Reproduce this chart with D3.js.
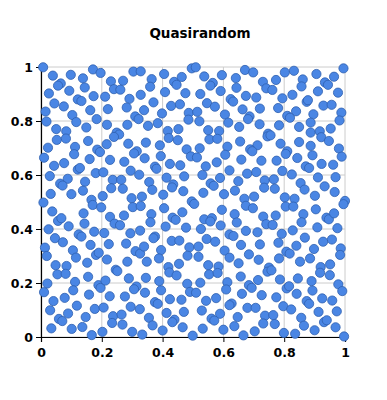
<!DOCTYPE html>
<html>
<head>
<meta charset="utf-8">
<script src="https://cdn.jsdelivr.net/npm/d3@7"></script>
<style>
  body { margin: 0; background: #fff; }
  text { font-family: "DejaVu Sans", Verdana, sans-serif; }
</style>
</head>
<body>
<div id="chart"></div>
<script>
const title = "Quasirandom";
const xTicks = [0, 0.2, 0.4, 0.6, 0.8, 1];
const yTicks = [0, 0.2, 0.4, 0.6, 0.8, 1];

// sample points, [x, y]
const samples = [
  // top band
  [0.007,0.999],[0.039,0.968],[0.098,0.971],[0.171,0.991],[0.196,0.978],[0.138,0.958],[0.304,0.983],[0.328,0.984],
  [0.230,0.947],[0.270,0.949],[0.065,0.939],[0.056,0.931],[0.144,0.924],[0.093,0.912],[0.026,0.902],[0.240,0.918],
  [0.261,0.916],[0.328,0.897],[0.173,0.892],[0.211,0.890],[0.291,0.882],[0.121,0.880],[0.133,0.874],[0.044,0.865],
  [0.075,0.854],[0.015,0.835],[0.162,0.840],[0.220,0.844],[0.282,0.850],[0.103,0.822],[0.310,0.817],[0.321,0.807],
  [0.018,0.798],[0.116,0.796],[0.183,0.807],[0.217,0.786],[0.284,0.786],[0.149,0.776],
  [0.364,0.955],[0.405,0.974],[0.496,0.995],[0.509,0.999],[0.537,0.965],[0.595,0.970],[0.641,0.959],[0.671,0.989],
  [0.438,0.945],[0.446,0.934],[0.463,0.963],[0.359,0.927],[0.565,0.941],[0.557,0.931],[0.643,0.923],[0.408,0.907],
  [0.475,0.903],[0.524,0.900],[0.591,0.911],[0.674,0.893],[0.624,0.881],[0.632,0.872],[0.370,0.869],[0.546,0.866],
  [0.572,0.853],[0.428,0.856],[0.457,0.862],[0.339,0.840],[0.663,0.843],[0.398,0.828],[0.486,0.830],[0.514,0.834],
  [0.605,0.824],[0.485,0.805],[0.521,0.799],[0.384,0.792],[0.352,0.782],[0.616,0.794],[0.652,0.778],
  [0.698,0.980],[0.802,0.980],[0.832,0.986],[0.906,0.974],[0.964,0.964],[0.995,0.995],[0.730,0.945],[0.773,0.952],
  [0.861,0.954],[0.741,0.921],[0.761,0.915],[0.857,0.928],[0.934,0.943],[0.944,0.934],[0.708,0.887],[0.794,0.884],
  [0.827,0.897],[0.911,0.910],[0.977,0.905],[0.874,0.871],[0.878,0.877],[0.720,0.846],[0.780,0.848],[0.839,0.836],
  [0.929,0.857],[0.956,0.860],[0.686,0.817],[0.681,0.807],[0.810,0.819],[0.819,0.812],[0.896,0.825],[0.988,0.831],
  [0.982,0.802],[0.719,0.788],[0.783,0.784],[0.887,0.794],[0.849,0.778],
  // upper middle band
  [0.050,0.770],[0.083,0.762],[0.249,0.757],[0.257,0.750],[0.240,0.741],[0.052,0.730],[0.082,0.735],[0.155,0.726],
  [0.216,0.714],[0.287,0.716],[0.023,0.701],[0.112,0.704],[0.109,0.677],[0.185,0.694],[0.194,0.685],[0.315,0.688],
  [0.306,0.680],[0.010,0.664],[0.160,0.659],[0.227,0.656],[0.274,0.649],[0.076,0.644],[0.043,0.634],[0.121,0.620],
  [0.128,0.626],[0.180,0.607],[0.205,0.610],[0.295,0.616],[0.323,0.601],[0.029,0.596],[0.088,0.586],[0.063,0.568],
  [0.071,0.561],[0.145,0.575],[0.236,0.582],[0.264,0.582],[0.231,0.551],[0.269,0.549],[0.138,0.542],[0.100,0.529],
  [0.032,0.530],
  [0.417,0.763],[0.452,0.770],[0.420,0.737],[0.450,0.729],[0.550,0.766],[0.586,0.763],[0.554,0.732],[0.580,0.734],
  [0.345,0.720],[0.391,0.710],[0.479,0.695],[0.522,0.699],[0.613,0.705],[0.655,0.724],[0.493,0.669],[0.513,0.665],
  [0.606,0.675],[0.394,0.670],[0.341,0.662],[0.659,0.657],[0.424,0.641],[0.458,0.636],[0.542,0.632],[0.578,0.647],
  [0.375,0.631],[0.380,0.623],[0.620,0.617],[0.356,0.574],[0.413,0.590],[0.471,0.595],[0.531,0.600],[0.589,0.589],
  [0.649,0.577],[0.558,0.569],[0.568,0.560],[0.435,0.565],[0.431,0.554],[0.366,0.545],[0.468,0.540],[0.534,0.534],
  [0.602,0.529],[0.638,0.542],
  [0.953,0.772],[0.887,0.757],[0.917,0.762],[0.922,0.740],[0.947,0.726],[0.747,0.753],[0.745,0.743],[0.755,0.747],
  [0.849,0.722],[0.788,0.716],[0.712,0.710],[0.688,0.695],[0.695,0.688],[0.887,0.708],[0.980,0.698],[0.989,0.668],
  [0.810,0.688],[0.805,0.678],[0.893,0.673],[0.843,0.663],[0.725,0.653],[0.775,0.653],[0.871,0.632],[0.882,0.626],
  [0.923,0.641],[0.961,0.638],[0.678,0.605],[0.708,0.611],[0.794,0.615],[0.825,0.602],[0.911,0.591],[0.969,0.592],
  [0.736,0.580],[0.766,0.584],[0.854,0.570],[0.734,0.553],[0.769,0.549],[0.867,0.546],[0.933,0.558],[0.966,0.537],
  // lower middle band
  [0.203,0.522],[0.166,0.508],[0.170,0.489],[0.198,0.480],[0.298,0.514],[0.332,0.520],[0.302,0.481],[0.328,0.485],
  [0.008,0.498],[0.037,0.465],[0.140,0.458],[0.273,0.450],[0.227,0.445],[0.056,0.430],[0.067,0.440],[0.143,0.420],
  [0.242,0.420],[0.260,0.414],[0.091,0.410],[0.025,0.399],[0.175,0.390],[0.208,0.385],[0.294,0.384],[0.326,0.394],
  [0.124,0.380],[0.133,0.372],[0.046,0.366],[0.072,0.351],[0.163,0.341],[0.223,0.344],[0.280,0.346],[0.013,0.331],
  [0.105,0.321],[0.019,0.300],[0.115,0.294],[0.181,0.304],[0.190,0.312],[0.311,0.318],[0.326,0.309],[0.217,0.287],
  [0.402,0.527],[0.496,0.502],[0.504,0.493],[0.669,0.512],[0.674,0.486],[0.405,0.477],[0.465,0.462],[0.363,0.455],
  [0.360,0.425],[0.433,0.442],[0.443,0.434],[0.537,0.436],[0.562,0.440],[0.557,0.428],[0.595,0.471],[0.637,0.455],
  [0.644,0.424],[0.410,0.409],[0.477,0.405],[0.526,0.400],[0.591,0.413],[0.674,0.393],[0.375,0.372],[0.370,0.366],
  [0.430,0.356],[0.455,0.357],[0.545,0.363],[0.573,0.353],[0.620,0.380],[0.633,0.374],[0.339,0.335],[0.395,0.322],
  [0.488,0.332],[0.518,0.335],[0.604,0.320],[0.658,0.341],[0.482,0.301],[0.518,0.297],[0.388,0.291],[0.620,0.294],
  [0.701,0.520],[0.697,0.477],[0.802,0.517],[0.834,0.512],[0.805,0.483],[0.830,0.483],[0.901,0.523],[1.000,0.504],
  [0.995,0.492],[0.904,0.473],[0.731,0.446],[0.772,0.450],[0.741,0.418],[0.762,0.415],[0.863,0.455],[0.857,0.425],
  [0.939,0.442],[0.947,0.436],[0.964,0.458],[0.909,0.406],[0.975,0.403],[0.712,0.388],[0.792,0.382],[0.828,0.395],
  [0.868,0.368],[0.928,0.353],[0.957,0.361],[0.720,0.343],[0.781,0.349],[0.840,0.338],[0.898,0.326],[0.986,0.328],
  [0.984,0.304],[0.684,0.306],[0.807,0.316],[0.818,0.309],[0.885,0.291],[0.716,0.286],[0.783,0.291],
  // bottom band
  [0.152,0.275],[0.284,0.279],[0.048,0.266],[0.084,0.263],[0.054,0.232],[0.081,0.234],[0.155,0.223],[0.246,0.249],
  [0.251,0.244],[0.289,0.217],[0.021,0.198],[0.112,0.204],[0.010,0.166],[0.106,0.173],[0.189,0.192],[0.196,0.182],
  [0.212,0.209],[0.314,0.187],[0.306,0.177],[0.158,0.157],[0.226,0.151],[0.276,0.150],[0.078,0.145],[0.041,0.133],
  [0.118,0.116],[0.177,0.104],[0.206,0.109],[0.295,0.112],[0.325,0.103],[0.030,0.099],[0.089,0.087],[0.059,0.067],
  [0.070,0.059],[0.147,0.074],[0.237,0.077],[0.265,0.083],[0.234,0.052],[0.268,0.046],[0.034,0.032],[0.101,0.030],
  [0.136,0.037],[0.167,0.007],[0.202,0.019],[0.300,0.019],[0.333,0.009],
  [0.348,0.279],[0.419,0.259],[0.454,0.271],[0.422,0.239],[0.446,0.228],[0.550,0.266],[0.584,0.261],[0.553,0.232],
  [0.581,0.237],[0.650,0.273],[0.657,0.224],[0.345,0.219],[0.389,0.207],[0.481,0.197],[0.524,0.201],[0.490,0.167],
  [0.510,0.164],[0.613,0.203],[0.609,0.176],[0.342,0.164],[0.395,0.173],[0.424,0.140],[0.462,0.138],[0.543,0.134],
  [0.576,0.144],[0.661,0.160],[0.375,0.129],[0.384,0.123],[0.627,0.124],[0.620,0.118],[0.413,0.089],[0.470,0.093],
  [0.529,0.098],[0.589,0.086],[0.561,0.068],[0.570,0.061],[0.647,0.074],[0.355,0.071],[0.367,0.043],[0.439,0.064],
  [0.432,0.055],[0.466,0.036],[0.532,0.031],[0.600,0.027],[0.636,0.040],[0.400,0.024],[0.499,0.005],[0.666,0.006],
  [0.852,0.279],[0.920,0.259],[0.951,0.269],[0.750,0.257],[0.745,0.242],[0.758,0.247],[0.918,0.238],[0.950,0.229],
  [0.684,0.192],[0.693,0.182],[0.714,0.211],[0.786,0.213],[0.845,0.217],[0.890,0.207],[0.978,0.195],[0.991,0.170],
  [0.808,0.180],[0.816,0.188],[0.841,0.160],[0.893,0.172],[0.726,0.155],[0.774,0.147],[0.874,0.133],[0.882,0.123],
  [0.925,0.143],[0.958,0.135],[0.679,0.108],[0.706,0.108],[0.797,0.114],[0.823,0.102],[0.913,0.093],[0.973,0.095],
  [0.737,0.079],[0.764,0.081],[0.856,0.071],[0.731,0.050],[0.769,0.048],[0.865,0.042],[0.931,0.055],[0.940,0.062],
  [0.969,0.036],[0.703,0.021],[0.799,0.015],[0.836,0.012],[0.900,0.025],[0.997,0.002]
];

const width = 387, height = 400;
const margin = {top: 67, right: 42, bottom: 63, left: 41};

const x = d3.scaleLinear().domain([0, 1]).range([margin.left, width - margin.right]);
const y = d3.scaleLinear().domain([0, 1]).range([height - margin.bottom, margin.top]);

const svg = d3.select("#chart").append("svg")
    .attr("width", width)
    .attr("height", height);

svg.append("text")
    .attr("x", 200)
    .attr("y", 38)
    .attr("text-anchor", "middle")
    .attr("font-size", 13.5)
    .attr("font-weight", "bold")
    .text(title);

// grid
svg.append("g").selectAll("line.vgrid")
    .data(xTicks).enter().append("line")
    .attr("x1", d => x(d)).attr("x2", d => x(d))
    .attr("y1", y(0)).attr("y2", y(1))
    .attr("stroke", "#cccccc");
svg.append("g").selectAll("line.hgrid")
    .data(yTicks).enter().append("line")
    .attr("x1", x(0)).attr("x2", x(1))
    .attr("y1", d => y(d)).attr("y2", d => y(d))
    .attr("stroke", "#cccccc");

const fmt = d => d === 0 || d === 1 ? String(d) : d.toFixed(1);

const xAxis = svg.append("g")
    .attr("transform", `translate(0,${y(0)})`)
    .call(d3.axisBottom(x).tickValues(xTicks).tickFormat(fmt).tickSize(5).tickPadding(6));
const yAxis = svg.append("g")
    .attr("transform", `translate(${x(0)},0)`)
    .call(d3.axisLeft(y).tickValues(yTicks).tickFormat(fmt).tickSize(5).tickPadding(3));

[xAxis, yAxis].forEach(g => {
  g.select(".domain").attr("stroke", "#000").attr("stroke-width", 1.2);
  g.selectAll(".tick line").attr("stroke", "#000");
  g.selectAll("text")
      .attr("font-family", "DejaVu Sans, Verdana, sans-serif")
      .attr("font-size", 12.5)
      .attr("font-weight", "bold")
      .attr("fill", "#000");
});

svg.append("g").selectAll("circle")
    .data(samples).enter().append("circle")
    .attr("cx", d => x(d[0]))
    .attr("cy", d => y(d[1]))
    .attr("r", 4.6)
    .attr("fill", "#4a86e4")
    .attr("stroke", "#2f5fae")
    .attr("stroke-width", 0.8);
</script>
</body>
</html>
